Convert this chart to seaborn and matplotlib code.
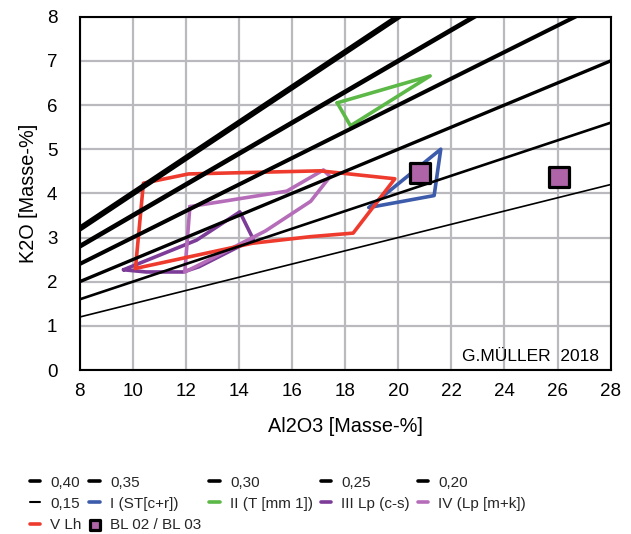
import matplotlib
matplotlib.use("Agg")
import matplotlib.pyplot as plt
import seaborn as sns

# K2O / Al2O3 ratio guide lines
ratios = [0.40, 0.35, 0.30, 0.25, 0.20, 0.15]
ratio_labels = ["0,40", "0,35", "0,30", "0,25", "0,20", "0,15"]
ratio_widths = [4.2, 3.4, 2.9, 2.4, 1.9, 1.2]
al_range = [8, 28]

# field outlines (Al2O3, K2O), closed polygons
I_al = [18.9, 21.35, 21.6, 18.9]
I_k = [3.68, 3.95, 5.00, 3.68]
II_al = [17.7, 21.2, 18.2, 17.7]
II_k = [6.05, 6.66, 5.53, 6.05]
III_al = [9.65, 12.4, 14.03, 14.54, 12.5, 11.9, 10.5, 9.65]
III_k = [2.27, 2.94, 3.58, 2.96, 2.34, 2.22, 2.22, 2.27]
IV_al = [12.15, 15.8, 17.18, 17.43, 16.7, 15.0, 12.5, 11.96, 12.15]
IV_k = [3.70, 4.05, 4.53, 4.38, 3.82, 3.15, 2.38, 2.22, 3.70]
V_al = [10.1, 14.5, 16.7, 18.3, 19.87, 17.05, 12.1, 10.4, 10.1]
V_k = [2.30, 2.87, 3.02, 3.10, 4.33, 4.51, 4.44, 4.23, 2.30]

fields = [
    ("I (ST[c+r])", I_al, I_k, "#3C5BAA"),
    ("II (T [mm 1])", II_al, II_k, "#5CB947"),
    ("III Lp (c-s)", III_al, III_k, "#7D3C98"),
    ("IV (Lp [m+k])", IV_al, IV_k, "#B66DB9"),
    ("V Lh", V_al, V_k, "#EE3B2E"),
]

# samples BL 02 and BL 03
bl_al = [20.8, 26.05]
bl_k = [4.45, 4.36]
bl_label = "BL 02 / BL 03"

x_ticks = list(range(8, 29, 2))
y_ticks = list(range(0, 9))

sns.set_theme(style="whitegrid", rc={"grid.color": "#B9B9BE", "grid.linewidth": 1.6})
plt.rcParams["font.family"] = ["Liberation Sans", "DejaVu Sans"]

fig = plt.figure(figsize=(6.31, 5.34), dpi=100)
ax = fig.add_axes([0.1263, 0.3071, 0.8415, 0.6616])

for name, xs, ys, col in fields:
    sns.lineplot(x=xs, y=ys, sort=False, estimator=None, color=col,
                 linewidth=2.6, ax=ax, label=name, zorder=2)

for r, lab, lw in zip(ratios, ratio_labels, ratio_widths):
    sns.lineplot(x=al_range, y=[r * a for a in al_range], sort=False,
                 estimator=None, color="black", linewidth=lw, ax=ax,
                 label=lab, zorder=3)

sns.scatterplot(x=bl_al, y=bl_k, marker="s", s=190, color="#B064A8",
                edgecolor="black", linewidth=2.3, ax=ax, label=bl_label,
                zorder=5)

ax.set_xlim(8, 28)
ax.set_ylim(0, 8)
ax.set_xticks(x_ticks)
ax.set_yticks(y_ticks)
ax.tick_params(axis="both", length=0, labelsize=13.5, colors="black")
ax.tick_params(axis="x", pad=9)
ax.tick_params(axis="y", pad=16)
for sp in ax.spines.values():
    sp.set_color("black")
    sp.set_linewidth(1.5)
    sp.set_zorder(6)

ax.set_xlabel("Al2O3 [Masse-%]", fontsize=14.3, color="black")
ax.set_ylabel("K2O [Masse-%]", fontsize=14.3, color="black")
ax.xaxis.set_label_coords(0.5, -0.133)
ax.yaxis.set_label_coords(-0.078, 0.5)

ax.text(0.978, 0.037, "G.MÜLLER  2018", transform=ax.transAxes,
        ha="right", va="center", fontsize=12.5, color="black", zorder=7)

# legend laid out row by row in five columns
handles, labels = ax.get_legend_handles_labels()
lookup = dict(zip(labels, handles))
row_order = ratio_labels + [f[0] for f in fields] + [bl_label]
ncol = 5
columns = [row_order[i::ncol] for i in range(ncol)]
ordered = [lab for col in columns for lab in col]
leg = ax.legend([lookup[l] for l in ordered], ordered, ncol=ncol,
                loc="upper left", bbox_to_anchor=(0.047, 0.109),
                bbox_transform=fig.transFigure, frameon=False, fontsize=11,
                handlelength=0.68, handletextpad=0.68, columnspacing=0.5,
                labelspacing=0.46, borderpad=0, borderaxespad=0,
                markerscale=0.55)
for h, lab in zip(leg.legend_handles, ordered):
    if lab in ratio_labels:
        h.set_linewidth(2.6 if lab != "0,15" else 1.5)

fig.savefig("out.png", dpi=100)
